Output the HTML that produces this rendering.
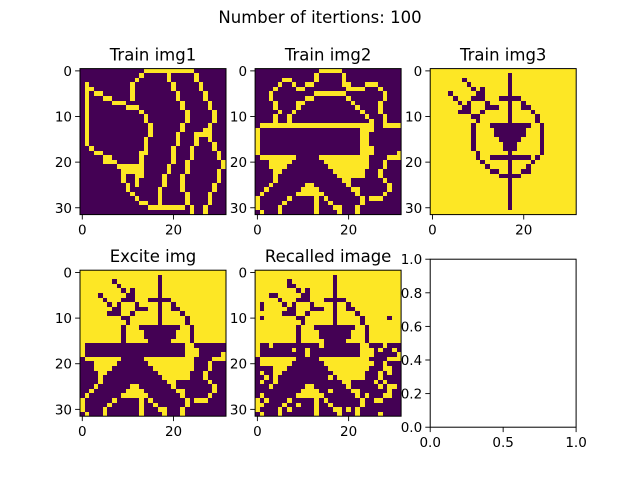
<!DOCTYPE html>
<html><head><meta charset="utf-8">
<style>
html,body{margin:0;padding:0;background:#fff;}
svg{display:block;font-family:"DejaVu Sans","Liberation Sans",sans-serif;}
</style></head>
<body>
<svg id="fig" width="640" height="480" viewBox="0 0 640 480" xmlns="http://www.w3.org/2000/svg">
<rect x="0" y="0" width="640" height="480" fill="#fff"/>
<text x="320" y="23" text-anchor="middle" font-size="16.5">Number of itertions: 100</text>
</svg>
<script>
// ---- data: per-row cell lists (ranges "a-b", comma separated) ----
const img1Yellow = ["14-24","13,19,25","12,19,25","1,11,20,26","1-2,11,20,26","1,3-4,11,21,27","1,5-6,11,21,27","1,7-9,22,28","1,10-12,22,28","1,13,23,29","1,14,23,29","1,14,23,29","1,15,22,28","1,15,22,27-28","1,15,21,25-28","1,14,21,25,28","1,14,21,25,29","2,14,20,24,29","3-4,13-14,20,24,30","5-6,13,20,24,30","5-7,13,20,23,31","8-13,19,23,31","9-13,19,23,30","9,12-13,18,22,30","9,12,18,22,30","10,12,18,22,29","10,17,22,29","11,17,23,28","12,17,23,28","13-14,17,23,28","15-22,24,27","24,27"];
const img2Yellow = ["14-18","13,19","6-7,13,19","5,8,11-12,19-20,24-26","4,9-10,20-23,27","3,13-19,28","3,11-12,20,28","4,9-10,21,27","4,9,22,27","5,8,23,27","4,7,24,28","4,7,25,28","1-25,28-31","0,23-25","0,23-24","0,23-24","0,23-24","0,23-25","0,23-25,31","1-8,14-24,29-31","3-7,15-24,28","3-6,16-24,28","4-5,17-23,27","4,18-23,27","4,19-20,28","3,11-12,20,29","2,10-13,21-22,29","1,9-14,22,28","0,7,13,15,23,25-27","0,6,13,16,23","0,5,13,17-18,22","1,5,13,18,22"];
const img3Dark = ["","17","7,17","8,17","9,11,17","4,10-11,17","5,9-11,15-19","6,8,12,17,20","7-8,12-14,17,20-21","6-8,11,17,22","9-10,17,23","10,17,23","9,13-21,24","9,14-20,24","9,14-20,24","9,15-19,24","9,16-18,24","9,16-18,24","10,17,24","10,13-21,23","11,17,22","12,17,21","13-14,17,20-21","15-19","17","17","17","17","17","17","17",""];
const exciteSplitRow = 16;
const recallFlips = ["3:7","5:3","7:1","8:1","10:1","10:29","16:3","17:8","17:11","18:11","16:14","16:28","17:27","17:30","20:1","22:1","20:2","21:3","23:2","24:1","26:2","28:2","29:1","22:29","24:26","25:27","27:24","28:25","30:20","31:27","20:25","23:16","26:16","30:7","29:9","25:30","21:29","27:29"];
const imgXTicks = [0,20];
const imgYTicks = [0,10,20,30];
const emptyXTicks = [0,0.5,1.0];
const emptyXTickLabels = ["0.0","0.5","1.0"];
const emptyYTicks = [0,0.2,0.4,0.6,0.8,1.0];
const emptyYTickLabels = ["0.0","0.2","0.4","0.6","0.8","1.0"];

const DARK="#440154", YEL="#fde725";
const N=32;
function parseRow(s){const set=new Set();if(!s)return set;s.split(',').forEach(p=>{if(p.includes('-')){const [a,b]=p.split('-').map(Number);for(let i=a;i<=b;i++)set.add(i);}else set.add(Number(p));});return set;}
function gridFrom(spec,onVal){return spec.map(r=>{const s=parseRow(r);const row=[];for(let c=0;c<N;c++)row.push(s.has(c)?onVal:1-onVal);return row;});}
const g1=gridFrom(img1Yellow,1), g2=gridFrom(img2Yellow,1), g3=gridFrom(img3Dark,0);
const gE=g3.slice(0,exciteSplitRow).concat(g2.slice(exciteSplitRow)).map(r=>r.slice());
const gR=gE.map(r=>r.slice());
recallFlips.forEach(f=>{const [r,c]=f.split(':').map(Number);gR[r][c]=1-gR[r][c];});

const svg=document.getElementById('fig');
const NS="http://www.w3.org/2000/svg";
function el(tag,attrs,parent){const e=document.createElementNS(NS,tag);for(const k in attrs)e.setAttribute(k,attrs[k]);(parent||svg).appendChild(e);return e;}

const W=146, H=146;
function drawImage(name,title,grid,x0,y0){
  const g=el('g',{});
  
  
  const cs=W/N;
  const sx=v=>x0+(v+0.5)*cs, sy=v=>y0+(v+0.5)*cs;
  const pg=el('g',{'shape-rendering':'crispEdges'},g);
  el('rect',{x:x0,y:y0,width:W,height:H,fill:DARK},pg);
  for(let r=0;r<N;r++)for(let c=0;c<N;c++){if(grid[r][c]){
    const xa=Math.round(x0+c*cs), xb=Math.round(x0+(c+1)*cs), ya=Math.round(y0+r*cs), yb=Math.round(y0+(r+1)*cs);
    const rc=el('rect',{x:xa,y:ya,width:xb-xa,height:yb-ya,fill:YEL},pg);
    
    }}
  el('rect',{x:x0,y:y0,width:W,height:H,fill:'none',stroke:'#000','stroke-width':1},g);
  imgXTicks.forEach(t=>{const x=sx(t);el('line',{x1:x,x2:x,y1:y0+H,y2:y0+H+4.9,stroke:'#000','stroke-width':0.9},g);
    const tx=el('text',{x:x,y:y0+H+20,'text-anchor':'middle','font-size':13.5},g);tx.textContent=t;
    
    });
  imgYTicks.forEach(t=>{const y=sy(t);el('line',{x1:x0-4.9,x2:x0,y1:y,y2:y,stroke:'#000','stroke-width':0.9},g);
    const tx=el('text',{x:x0-8,y:y+5,'text-anchor':'end','font-size':13.5},g);tx.textContent=t;
    
    });
  const tt=el('text',{x:x0+W/2,y:y0-8,'text-anchor':'middle','font-size':16.5},g);tt.textContent=title;
  
  
}
drawImage('train-img1','Train img1',g1,80,68.6);
drawImage('train-img2','Train img2',g2,255.1,68.6);
drawImage('train-img3','Train img3',g3,430.2,68.6);
drawImage('excite-img','Excite img',gE,80,270.2);
drawImage('recalled-img','Recalled image',gR,255.1,270.2);

// empty axes
(function(){
  const x0=430.2,y0=259.2,w=145.9,h=168;
  const g=el('g',{});
  
  
  el('rect',{x:x0,y:y0,width:w,height:h,fill:'#fff',stroke:'#000','stroke-width':1},g);
  const sx=v=>x0+v*w, sy=v=>y0+h-v*h;
  emptyXTicks.forEach((t,i)=>{
    const x=sx(t);el('line',{x1:x,x2:x,y1:y0+h,y2:y0+h+4.9,stroke:'#000','stroke-width':0.9},g);
    const tx=el('text',{x:x,y:y0+h+20,'text-anchor':'middle','font-size':13.5},g);tx.textContent=emptyXTickLabels[i];
    
    
  });
  emptyYTicks.forEach((t,i)=>{
    const y=sy(t);el('line',{x1:x0-4.9,x2:x0,y1:y,y2:y,stroke:'#000','stroke-width':0.9},g);
    const ty=el('text',{x:x0-8,y:y+5,'text-anchor':'end','font-size':13.5},g);ty.textContent=emptyYTickLabels[i];
    
    
  });
})();
</script>
</body></html>
